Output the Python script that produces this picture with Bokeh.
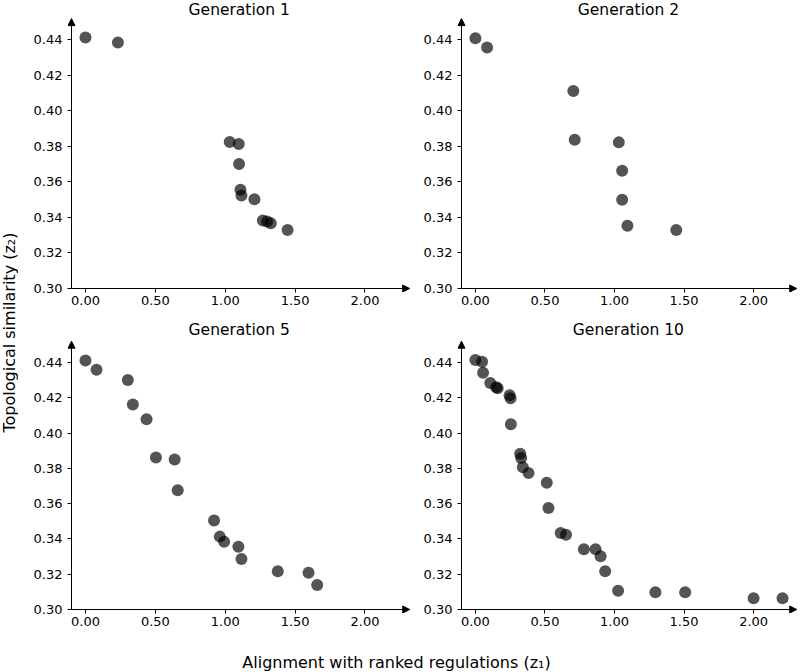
from bokeh.plotting import figure
from bokeh.models import Range1d, FixedTicker, PrintfTickFormatter, Arrow, NormalHead, Label
from bokeh.layouts import row, column
from bokeh.embed import file_html
from bokeh.resources import INLINE

# ---------------- data ----------------
titles = ["Generation 1", "Generation 2", "Generation 5", "Generation 10"]

g1_x = [0.000, 0.232, 1.032, 1.097, 1.099, 1.109, 1.116, 1.209, 1.269, 1.300, 1.326, 1.446]
g1_y = [0.4414, 0.4386, 0.3825, 0.3814, 0.3701, 0.3556, 0.3524, 0.3503, 0.3383, 0.3377, 0.3367, 0.3330]

g2_x = [0.000, 0.084, 0.704, 0.714, 1.031, 1.055, 1.055, 1.093, 1.444]
g2_y = [0.4410, 0.4357, 0.4112, 0.3838, 0.3823, 0.3663, 0.3500, 0.3354, 0.3330]

g5_x = [0.000, 0.079, 0.303, 0.339, 0.437, 0.504, 0.638, 0.660, 0.920, 0.961, 0.992,
        1.094, 1.116, 1.376, 1.596, 1.658]
g5_y = [0.4411, 0.4358, 0.4300, 0.4161, 0.4078, 0.3861, 0.3850, 0.3676, 0.3505, 0.3413,
        0.3384, 0.3356, 0.3286, 0.3217, 0.3209, 0.3139]

g10_x = [0.000, 0.048, 0.055, 0.107, 0.150, 0.160, 0.246, 0.253, 0.255, 0.322, 0.329,
         0.341, 0.382, 0.513, 0.525, 0.613, 0.652, 0.780, 0.864, 0.900, 0.933, 1.026,
         1.294, 1.508, 2.000, 2.208]
g10_y = [0.4413, 0.4403, 0.4341, 0.4283, 0.4259, 0.4253, 0.4214, 0.4197, 0.4050, 0.3882,
         0.3858, 0.3806, 0.3774, 0.3718, 0.3575, 0.3433, 0.3424, 0.3341, 0.3341, 0.3302,
         0.3217, 0.3107, 0.3098, 0.3098, 0.3064, 0.3064]

x_ticks = [0.0, 0.5, 1.0, 1.5, 2.0]
y_ticks = [0.30, 0.32, 0.34, 0.36, 0.38, 0.40, 0.42, 0.44]

x_label = "Alignment with ranked regulations (z\u2081)"
y_label = "Topological similarity (z\u2082)"

FONT = "DejaVu Sans"
X_AXIS, Y_AXIS = -0.1, 0.30     # where the axis lines sit
X_TIP, Y_TIP = 2.32, 0.452      # arrow tips


def panel(xs, ys, title, width, height, x_end, y_end, b_left, b_right, b_bottom, title_y):
    x_start = X_AXIS - 0.0287
    y_start = Y_AXIS - 0.00225
    p = figure(width=width, height=height, output_backend="svg", toolbar_location=None,
               x_range=Range1d(x_start, x_end), y_range=Range1d(y_start, y_end),
               min_border_left=b_left, min_border_right=b_right,
               min_border_top=0, min_border_bottom=b_bottom)
    p.outline_line_color = None
    p.xgrid.visible = False
    p.ygrid.visible = False
    for ax, ticks in ((p.xaxis[0], x_ticks), (p.yaxis[0], y_ticks)):
        ax.ticker = FixedTicker(ticks=ticks)
        ax.formatter = PrintfTickFormatter(format="%.2f")
        ax.axis_line_color = None
        ax.minor_tick_line_color = None
        ax.major_tick_in = 4
        ax.major_tick_out = 0
        ax.major_tick_line_color = "black"
        ax.major_label_text_font = FONT
        ax.major_label_text_font_size = "13px"
        ax.major_label_text_color = "black"
    p.xaxis[0].major_label_standoff = 3
    p.yaxis[0].major_label_standoff = 5

    p.scatter(xs, ys, size=12, color="black", alpha=0.67, line_color=None)

    head = dict(size=7, fill_color="black", line_color="black", line_width=1)
    p.add_layout(Arrow(end=NormalHead(**head), x_start=X_AXIS, y_start=Y_AXIS,
                       x_end=min(X_TIP, x_end - 0.02), y_end=Y_AXIS,
                       line_color="black", line_width=1))
    p.add_layout(Arrow(end=NormalHead(**head), x_start=X_AXIS, y_start=Y_AXIS,
                       x_end=X_AXIS, y_end=Y_TIP,
                       line_color="black", line_width=1))
    p.add_layout(Label(x=1.10, y=title_y, text=title, text_align="center",
                       text_baseline="middle", text_font=FONT, text_font_size="15.5px",
                       text_color="black"))
    return p


TOP_YEND = 0.4622
BOT_YEND = 0.4626
f1 = panel(g1_x, g1_y, titles[0], 402, 322, 2.34, TOP_YEND, 49, 8, 30, 0.4571)
f2 = panel(g2_x, g2_y, titles[1], 380, 322, 2.33, TOP_YEND, 35, 1, 30, 0.4571)
f3 = panel(g5_x, g5_y, titles[2], 402, 321, 2.34, BOT_YEND, 49, 8, 30, 0.4581)
f4 = panel(g10_x, g10_y, titles[3], 380, 321, 2.33, BOT_YEND, 35, 1, 30, 0.4581)

ylab = figure(width=18, height=672, output_backend="svg", toolbar_location=None,
              x_range=Range1d(0, 18), y_range=Range1d(0, 672), min_border=0)
ylab.axis.visible = False
ylab.grid.visible = False
ylab.outline_line_color = None
ylab.add_layout(Label(x=9, y=340, text=y_label, angle=1.5707963, angle_units="rad",
                      text_align="center", text_baseline="middle", text_font=FONT,
                      text_font_size="16px", text_color="black"))

xlab = figure(width=782, height=29, output_backend="svg", toolbar_location=None,
              x_range=Range1d(0, 782), y_range=Range1d(0, 29), min_border=0)
xlab.axis.visible = False
xlab.grid.visible = False
xlab.outline_line_color = None
xlab.add_layout(Label(x=396 - 18, y=10, text=x_label, text_align="center",
                      text_baseline="middle", text_font=FONT, text_font_size="16px",
                      text_color="black"))

layout = row(ylab, column(row(f1, f2), row(f3, f4), xlab))

open("out.html", "w").write(file_html(layout, INLINE))
